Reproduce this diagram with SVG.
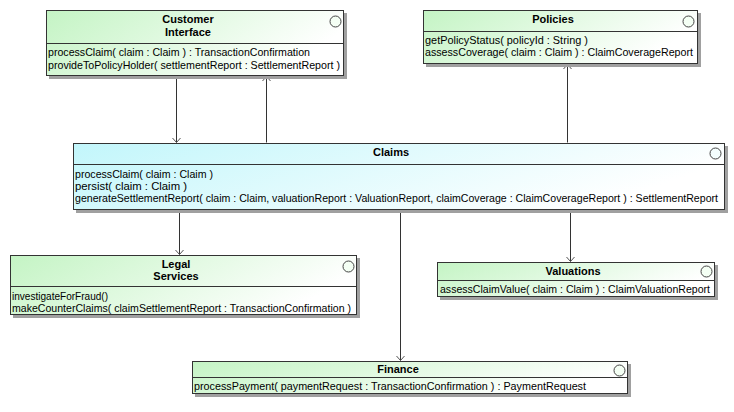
<svg xmlns="http://www.w3.org/2000/svg" width="734" height="412" viewBox="0 0 734 412">
<style>
text{font-family:"Liberation Sans",Arial,sans-serif;font-size:11px;fill:#000}
.t{font-weight:bold;text-anchor:middle}
.box{stroke:#333;stroke-width:1}
.g{fill:url(#gg)}
.c{fill:url(#gc)}
.sh{fill:#a0a0a0}
.dv{stroke:#333;stroke-width:1}
.ic{fill:#f4fff4;stroke:#444;stroke-width:1}
.ln{stroke:#333;stroke-width:1;fill:none}
</style>
<defs>
<linearGradient id="gg" x1="0" y1="0" x2="1" y2="0.3">
<stop offset="0" stop-color="#c4f4c4"/>
<stop offset="1" stop-color="#ffffff"/>
</linearGradient>
<linearGradient id="gc" x1="0" y1="0" x2="1" y2="0.3">
<stop offset="0" stop-color="#c2f6fb"/>
<stop offset="1" stop-color="#ffffff"/>
</linearGradient>
<marker id="ar" markerWidth="12" markerHeight="12" refX="6" refY="6" orient="auto" markerUnits="userSpaceOnUse">
<path d="M1.5,2 L6,6 L1.5,10" fill="none" stroke="#555" stroke-width="1"/>
</marker>
</defs>

<g id="connectors">
<line class="ln" x1="176.5" y1="76.5" x2="176.5" y2="142.5" marker-end="url(#ar)"/>
<line class="ln" x1="266.5" y1="142.5" x2="266.5" y2="76.5" marker-end="url(#ar)"/>
<line class="ln" x1="567.5" y1="142.5" x2="567.5" y2="64.5" marker-end="url(#ar)"/>
<line class="ln" x1="179.5" y1="210.5" x2="179.5" y2="254.5" marker-end="url(#ar)"/>
<line class="ln" x1="400.5" y1="210.5" x2="400.5" y2="360.5" marker-end="url(#ar)"/>
<line class="ln" x1="570.5" y1="210.5" x2="570.5" y2="261.5" marker-end="url(#ar)"/>
</g>

<g id="customer-interface">
<rect class="sh" x="49" y="13" width="298" height="66"/>
<rect class="box g" x="46.5" y="10.5" width="297" height="65"/>
<line class="dv" x1="46.5" y1="43.5" x2="343.5" y2="43.5"/>
<circle class="ic" cx="335.5" cy="21.5" r="5.5"/>
<text class="t" x="188" y="23">Customer</text>
<text class="t" x="188" y="36">Interface</text>
<text x="48" y="56" textLength="262" lengthAdjust="spacingAndGlyphs">processClaim( claim : Claim ) : TransactionConfirmation</text>
<text x="48" y="69" textLength="292" lengthAdjust="spacingAndGlyphs">provideToPolicyHolder( settlementReport : SettlementReport )</text>
</g>

<g id="policies">
<rect class="sh" x="426" y="13" width="275" height="54"/>
<rect class="box g" x="423.5" y="10.5" width="274" height="53"/>
<line class="dv" x1="423.5" y1="31.5" x2="697.5" y2="31.5"/>
<circle class="ic" cx="688.5" cy="21.5" r="5.5"/>
<text class="t" x="553" y="23">Policies</text>
<text x="425" y="44" textLength="163" lengthAdjust="spacingAndGlyphs">getPolicyStatus( policyId : String )</text>
<text x="425" y="56" textLength="268" lengthAdjust="spacingAndGlyphs">assessCoverage( claim : Claim ) : ClaimCoverageReport</text>
</g>

<g id="claims">
<rect class="sh" x="76" y="146" width="652" height="67"/>
<rect class="box c" x="73.5" y="143.5" width="651" height="66"/>
<line class="dv" x1="73.5" y1="164.5" x2="724.5" y2="164.5"/>
<circle class="ic" cx="715.5" cy="153.5" r="5.5" style="fill:#f4ffff"/>
<text class="t" x="391" y="156">Claims</text>
<text x="75" y="178" textLength="138" lengthAdjust="spacingAndGlyphs">processClaim( claim : Claim )</text>
<text x="75" y="190" textLength="112" lengthAdjust="spacingAndGlyphs">persist( claim : Claim )</text>
<text x="75" y="202" style="font-size:10.3px" textLength="643" lengthAdjust="spacingAndGlyphs">generateSettlementReport( claim : Claim, valuationReport : ValuationReport, claimCoverage : ClaimCoverageReport ) : SettlementReport</text>
</g>

<g id="legal-services">
<rect class="sh" x="13" y="258" width="347" height="60"/>
<rect class="box g" x="10.5" y="255.5" width="346" height="59"/>
<line class="dv" x1="10.5" y1="286.5" x2="356.5" y2="286.5"/>
<circle class="ic" cx="348.5" cy="266.5" r="5.5"/>
<text class="t" x="176" y="268">Legal</text>
<text class="t" x="176" y="280">Services</text>
<text x="12" y="300" textLength="96" lengthAdjust="spacingAndGlyphs">investigateForFraud()</text>
<text x="12" y="312" textLength="339" lengthAdjust="spacingAndGlyphs">makeCounterClaims( claimSettlementReport : TransactionConfirmation )</text>
</g>

<g id="valuations">
<rect class="sh" x="440" y="265" width="278" height="35"/>
<rect class="box g" x="437.5" y="262.5" width="277" height="34"/>
<line class="dv" x1="437.5" y1="280.5" x2="714.5" y2="280.5"/>
<circle class="ic" cx="706.5" cy="271.5" r="5.5"/>
<text class="t" x="573" y="275">Valuations</text>
<text x="440" y="293" textLength="270" lengthAdjust="spacingAndGlyphs">assessClaimValue( claim : Claim ) : ClaimValuationReport</text>
</g>

<g id="finance">
<rect class="sh" x="195" y="364" width="436" height="33"/>
<rect class="box g" x="192.5" y="361.5" width="435" height="32"/>
<line class="dv" x1="192.5" y1="377.5" x2="627.5" y2="377.5"/>
<circle class="ic" cx="619.5" cy="370.5" r="5.5"/>
<text class="t" x="398" y="373">Finance</text>
<text x="194" y="390" textLength="392" lengthAdjust="spacingAndGlyphs">processPayment( paymentRequest : TransactionConfirmation ) : PaymentRequest</text>
</g>
</svg>
